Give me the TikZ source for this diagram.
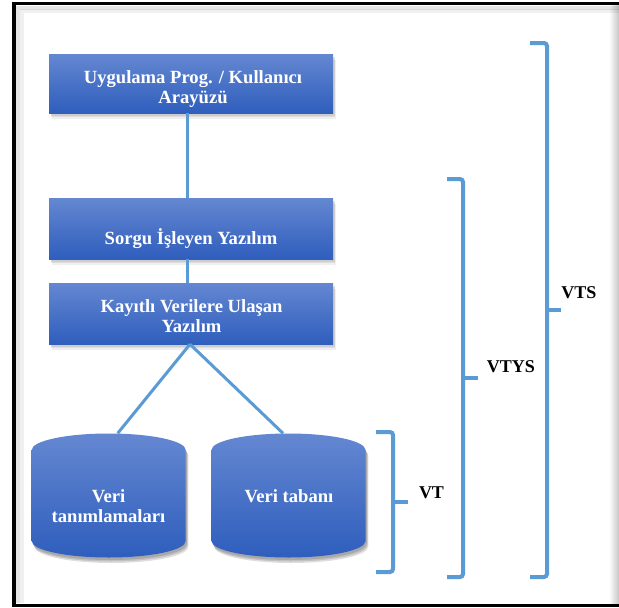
\documentclass[tikz,border=0pt]{standalone}
\usepackage{fontspec}
\setmainfont{Liberation Serif}
\usetikzlibrary{shadows}
\definecolor{boxtop}{RGB}{100,135,209}
\definecolor{boxbot}{RGB}{47,94,189}
\definecolor{linkblue}{RGB}{91,155,213}
\newcommand\cylpath[2]{(#1-77,#2-45.5) -- (#1-77,#2+45.5) arc[start angle=180, end angle=0, x radius=77, y radius=16.5] -- (#1+77,#2-45.5) arc[start angle=0, end angle=-180, x radius=77, y radius=16.5] -- cycle}
\begin{document}
\begin{tikzpicture}[x=1pt,y=-1pt,
  box/.style={rectangle, top color=boxtop, bottom color=boxbot, draw=none, minimum width=284pt, inner sep=0pt,
    drop shadow={shadow xshift=2.5pt, shadow yshift=-5.5pt, opacity=0.12},
    drop shadow={shadow xshift=2pt, shadow yshift=-4pt, opacity=0.15},
    drop shadow={shadow xshift=1.5pt, shadow yshift=-2.5pt, opacity=0.18}},
  boxtext/.style={text=white, font=\fontsize{18.6}{20.5}\selectfont\bfseries, align=center, inner sep=0pt},
  cylfill/.style={top color=boxtop, bottom color=boxbot},
  cylshadow/.style={fill=black, opacity=0.13},
  link/.style={draw=linkblue, line width=3pt},
  bracket/.style={draw=linkblue, line width=4pt, rounded corners=3pt},
  lbl/.style={font=\fontsize{18}{20}\selectfont\bfseries, inner sep=0pt, anchor=base},
]
\useasboundingbox (0,0) rectangle (619,608);
% frame
\fill[white] (0,0) rectangle (619,608);
\shade[left color=white, right color=gray!45] (609,5) rectangle (619,604);
\draw[black, opacity=0.10, line width=4pt] (619,7.5) -- (18,7.5) -- (18,603);
\draw[black, opacity=0.06, line width=4pt] (619,11) -- (21.5,11) -- (21.5,603);
\draw[line width=3.5pt, line join=miter] (619,3.5) -- (14,3.5) -- (14,605.5) -- (619,605.5);

% boxes
\node[box, minimum height=59pt] (b1) at (191,83.5) {};
\node[box, minimum height=61pt] (b2) at (191,228.5) {};
\node[box, minimum height=61pt] (b3) at (191,313.5) {};
\node[boxtext, anchor=north] (t1) at (193,70.3) {Uygulama Prog. / Kullanıcı\\Arayüzü};
\node[boxtext, anchor=base] (t2) at (191,244) {Sorgu İşleyen Yazılım};
\node[boxtext, anchor=north] (t3) at (191.5,299.3) {Kayıtlı Verilere Ulaşan\\Yazılım};

% cylinders
\foreach \s in {2.5,4,5.5}{
  \fill[cylshadow, shift={(\s/2,\s)}] \cylpath{108.7}{495.5};
  \fill[cylshadow, shift={(\s/2,\s)}] \cylpath{288.5}{495.5};
}
\shade[cylfill] \cylpath{108.7}{495.5};
\shade[cylfill] \cylpath{288.5}{495.5};
\node[minimum width=154pt, minimum height=124pt, inner sep=0pt] (c1) at (108.7,495.5) {};
\node[minimum width=154pt, minimum height=124pt, inner sep=0pt] (c2) at (288.5,495.5) {};
\node[boxtext, anchor=north] (t4) at (108.5,489.3) {Veri\\tanımlamaları};
\node[boxtext, anchor=base] (t5) at (289,502) {Veri tabanı};

% connectors
\draw[link] ([xshift=-4pt]b1.south) -- ([xshift=-4pt]b2.north);
\draw[link] ([xshift=-4pt]b2.south) -- ([xshift=-4pt]b3.north);
\draw[link] ([xshift=-1pt]b3.south) -- ([xshift=9pt]c1.north);
\draw[link] ([xshift=-1pt]b3.south) -- ([xshift=-5.5pt]c2.north);

% brackets
\draw[bracket] (376,432) -- (393,432) -- (393,572) -- (376,572);
\draw[link, line width=4pt] (393,502) -- (408,502);
\draw[bracket] (447,179) -- (463,179) -- (463,577) -- (447,577);
\draw[link, line width=4pt] (463,378) -- (478,378);
\draw[bracket] (530,43) -- (547,43) -- (547,577) -- (530,577);
\draw[link, line width=4pt] (547,310) -- (561,310);

% labels
\node[lbl] (vt) at (431.5,498) {VT};
\node[lbl] (vtys) at (511,372) {VTYS};
\node[lbl] (vts) at (579,298) {VTS};
\end{tikzpicture}
\end{document}
